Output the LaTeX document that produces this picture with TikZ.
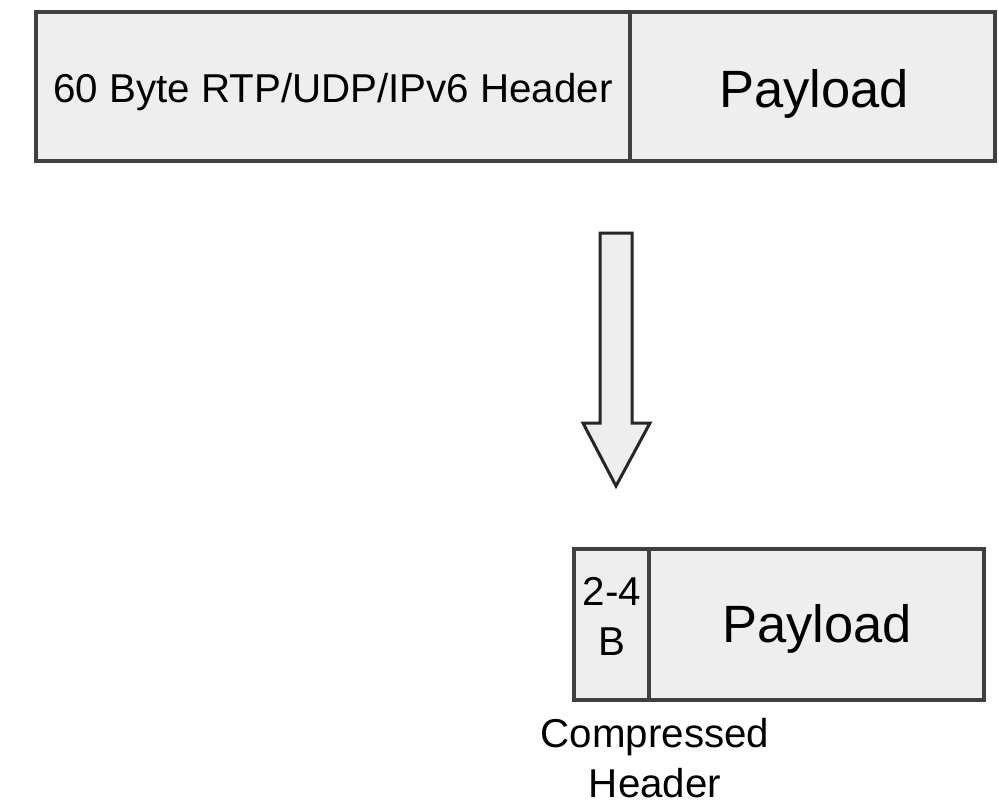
\documentclass[tikz,border=0pt]{standalone}
\usepackage{fontspec}
\setmainfont{Liberation Sans}
\definecolor{boxfill}{HTML}{EEEEEE}
\definecolor{boxline}{HTML}{404040}
\begin{document}
\begin{tikzpicture}[x=1pt,y=-1pt,
  field/.style={draw=boxline,line width=3.5pt,fill=boxfill},
  bigtxt/.style={font=\fontsize{52.5}{60}\selectfont,anchor=base,inner sep=0pt},
  midtxt/.style={font=\fontsize{40.3}{50}\selectfont},
  blockarrow/.style={draw=black!85,line width=3pt,fill=boxfill,line join=miter}]
\useasboundingbox (0,0) rectangle (999,801);
% top packet
\draw[field] (36,12) rectangle (630,161);
\draw[field] (630,12) rectangle (995,161);
\node[midtxt,anchor=base,inner sep=0pt] (hdr) at (333,102) {60 Byte RTP/UDP/IPv6 Header};
\node[bigtxt] (pl1) at (814,107) {Payload};
% block arrow
\draw[blockarrow] (600,233) -- (632,233) -- (632,423) -- (650,423) -- (616,486)
  -- (583,423) -- (600,423) -- cycle;
% bottom packet
\draw[field] (574,549) rectangle (649,700);
\draw[field] (649,549) rectangle (984,700);
\node[midtxt,align=center,anchor=north,inner sep=0pt] (ch) at (612,577) {2-4\\B};
\node[bigtxt] (pl2) at (817,642) {Payload};
\node[midtxt,align=center,anchor=north,inner sep=0pt] (lbl) at (655,718) {Compressed\\Header};
\end{tikzpicture}
\end{document}
